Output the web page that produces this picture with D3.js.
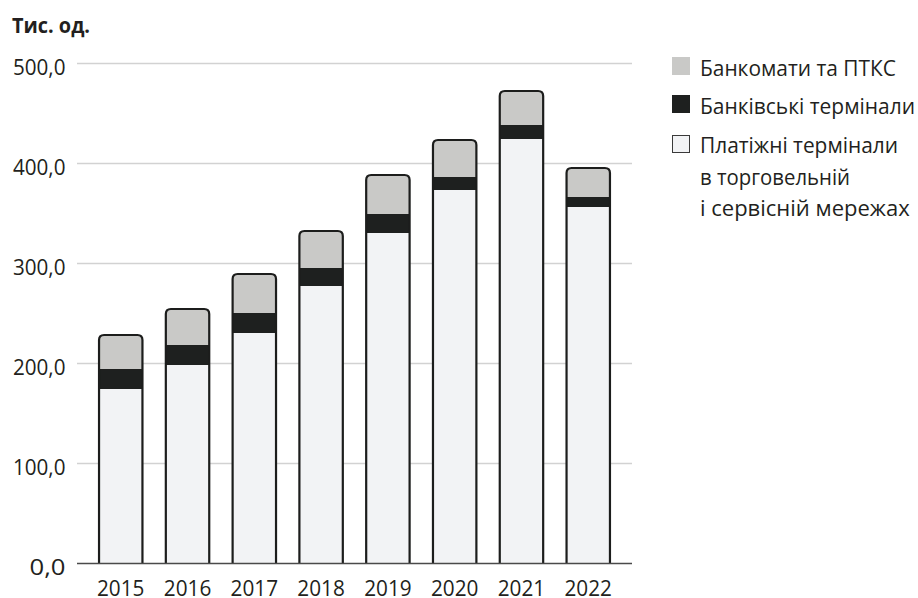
<!DOCTYPE html>
<html>
<head>
<meta charset="utf-8">
<script src="https://cdn.jsdelivr.net/npm/d3@7"></script>
<style>
  html, body { margin: 0; padding: 0; background: #ffffff; }
  svg { display: block; }
  text { font-family: "Open Sans", "Noto Sans", sans-serif; fill: #231f20; }
</style>
</head>
<body>
<svg id="chart" width="918" height="598"></svg>
<script>
// ---- data ----
const years = ["2015", "2016", "2017", "2018", "2019", "2020", "2021", "2022"];
const paymentTerminals = [174, 198, 230, 277, 330, 373, 424, 356]; // Платіжні термінали в торговельній і сервісній мережах
const bankTerminals    = [20, 20, 20, 18, 19, 13, 14, 10];         // Банківські термінали
const atms             = [34, 36, 39, 37, 39, 37, 34, 29];         // Банкомати та ПТКС
const yTicks = [0, 100, 200, 300, 400, 500];
const unitLabel = "Тис. од.";
const seriesKeys = ["payment", "bank", "atm"];
const legendItems = [
  { key: "atm", lines: ["Банкомати та ПТКС"] },
  { key: "bank", lines: ["Банківські термінали"] },
  { key: "payment", lines: ["Платіжні термінали", "в торговельній", "і сервісній мережах"] }
];

// ---- styles ----
const colors = { payment: "#f2f3f5", bank: "#1e201f", atm: "#c9c9c7" };
const outline = "#1c1d1c";

const svg = d3.select("#chart");
const table = years.map((y, i) => ({ year: y, payment: paymentTerminals[i], bank: bankTerminals[i], atm: atms[i] }));

const x = d3.scaleBand().domain(years).range([77, 632]).paddingInner(0.35).paddingOuter(0.33);
const y = d3.scaleLinear().domain([0, 500]).range([563, 63]);

function fitText(sel, w) {
  sel.each(function () {
    const len = this.getComputedTextLength();
    if (Math.abs(len - w) > 1) {
      d3.select(this).attr("textLength", w).attr("lengthAdjust", "spacingAndGlyphs");
    }
  });
}

// gridlines
svg.append("g").selectAll("line")
  .data(yTicks.filter(t => t > 0))
  .join("line")
  .attr("x1", 77).attr("x2", 632)
  .attr("y1", d => y(d) + 0.5).attr("y2", d => y(d) + 0.5)
  .attr("stroke", "#d2d2d2").attr("stroke-width", 1.3);

// y tick labels
const fmt = d => d3.format(".1f")(d).replace(".", ",");
svg.append("g").selectAll("text")
  .data(yTicks)
  .join("text")
  .attr("x", 65.5).attr("y", d => y(d) + 12)
  .attr("text-anchor", "end")
  .attr("font-size", 22)
  .text(fmt)
  .each(function (d) {
    const w = { 3: 36, 5: 52.5 }[fmt(d).length];
    fitText(d3.select(this), w);
  });

// title
svg.append("text")
  .attr("x", 12).attr("y", 33)
  .attr("font-size", 22).attr("font-weight", 700)
  .text(unitLabel)
  .call(fitText, 78);

// stacked bars
const stack = d3.stack().keys(seriesKeys)(table);
const bw = x.bandwidth();
const r = 5;
function outlinePath(d) {
  const x0 = x(d.year), x1 = x0 + bw;
  const top = y(d.payment + d.bank + d.atm), base = y(0);
  return `M${x0},${base}V${top + r}Q${x0},${top} ${x0 + r},${top}H${x1 - r}Q${x1},${top} ${x1},${top + r}V${base}`;
}
const defs = svg.append("defs");
table.forEach((d, i) => {
  defs.append("clipPath").attr("id", "clip" + i)
    .append("path").attr("d", outlinePath(d) + "Z");
});
const barG = svg.append("g");
table.forEach((d, i) => {
  const g = barG.append("g");
  g.append("g").attr("clip-path", `url(#clip${i})`)
    .selectAll("rect")
    .data(stack.map(s => ({ key: s.key, v: s[i] })))
    .join("rect")
    .attr("x", x(d.year) - 2).attr("width", bw + 4)
    .attr("y", e => y(e.v[1])).attr("height", e => y(e.v[0]) - y(e.v[1]))
    .attr("fill", e => colors[e.key]);
  g.append("path").attr("d", outlinePath(d))
    .attr("fill", "none").attr("stroke", outline).attr("stroke-width", 2.2);
});

// baseline
svg.append("line")
  .attr("x1", 77).attr("x2", 632)
  .attr("y1", y(0) + 0.5).attr("y2", y(0) + 0.5)
  .attr("stroke", "#4a4a4a").attr("stroke-width", 1.5);

// x labels
svg.append("g").selectAll("text")
  .data(years)
  .join("text")
  .attr("x", d => x(d) + bw / 2).attr("y", 596)
  .attr("text-anchor", "middle")
  .attr("font-size", 22)
  .text(d => d)
  .call(fitText, 47.5);

// legend
const legendBaselines = [[76], [114], [153, 185, 216]];
const legendWidths = [[196], [215], [198, 150, 210]];
const lg = svg.append("g");
legendItems.forEach((item, i) => {
  const b0 = legendBaselines[i][0];
  lg.append("rect")
    .attr("x", item.key === "payment" ? 672.5 : 672)
    .attr("y", item.key === "payment" ? b0 - 17.5 : b0 - 19)
    .attr("width", item.key === "payment" ? 17 : 18)
    .attr("height", item.key === "payment" ? 17 : 18)
    .attr("fill", colors[item.key])
    .attr("stroke", item.key === "payment" ? "#3a3a3a" : "none")
    .attr("stroke-width", 1);
  item.lines.forEach((line, j) => {
    lg.append("text")
      .attr("x", 700).attr("y", legendBaselines[i][j])
      .attr("font-size", 22)
      .text(line)
      .call(fitText, legendWidths[i][j]);
  });
});
</script>
</body>
</html>
